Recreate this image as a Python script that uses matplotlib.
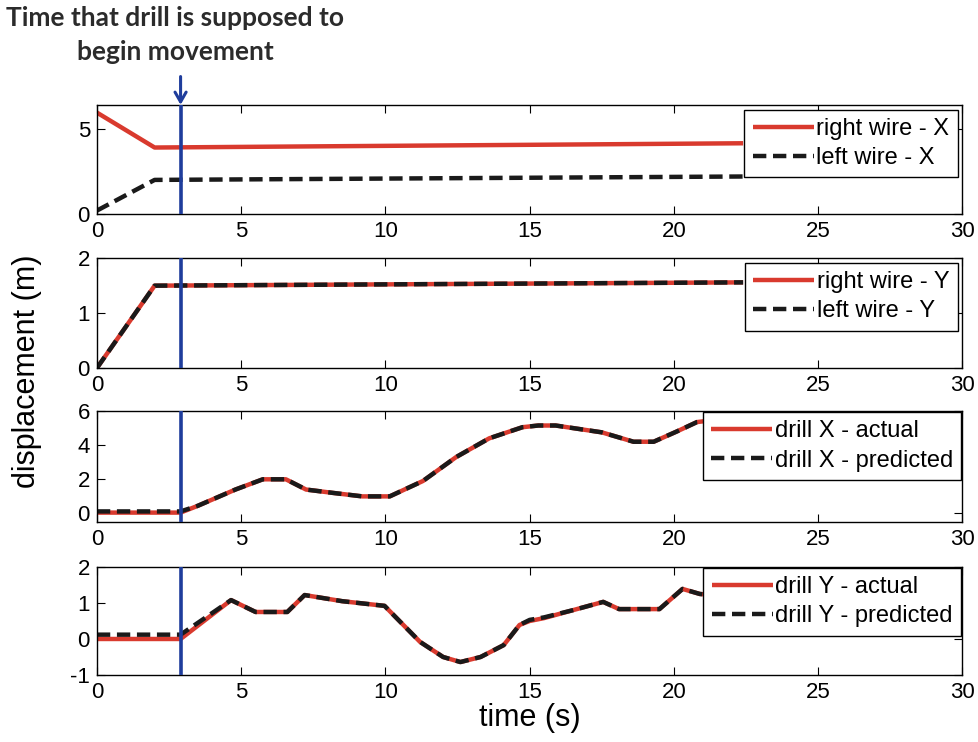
import matplotlib
matplotlib.use("Agg")
import matplotlib.pyplot as plt

# wire positions (s, m)
t_wire = [0, 2, 22.4]
right_x = [5.95, 3.9, 4.15]
left_x = [0.2, 2.0, 2.2]
right_y = [0.0, 1.5, 1.56]
left_y = [0.0, 1.5, 1.56]

# drill X
t_dx = [0, 2.9, 3.5, 4.8, 5.75, 6.55, 7.25, 8.2, 9.2, 10.15, 11.3, 12.45,
        13.6, 14.75, 15.3, 15.9, 17.5, 18.6, 19.3, 20.1, 20.8, 21.5, 22.3]
drill_x_act = [0.05, 0.05, 0.45, 1.4, 2.0, 2.0, 1.4, 1.2, 1.0, 1.0, 1.9, 3.3,
               4.4, 5.05, 5.15, 5.15, 4.75, 4.2, 4.2, 4.8, 5.35, 5.5, 5.55]
drill_x_pred = [0.12, 0.12, 0.45, 1.4, 2.0, 2.0, 1.4, 1.2, 1.0, 1.0, 1.9, 3.3,
                4.4, 5.05, 5.15, 5.15, 4.75, 4.2, 4.2, 4.8, 5.35, 5.5, 5.55]

# drill Y
t_dy = [0, 2.9, 4.65, 5.5, 6.6, 7.2, 8.5, 9.97, 11.2, 12.0, 12.6, 13.3, 14.1,
        14.65, 15.0, 15.5, 16.5, 17.55, 18.1, 19.5, 20.3, 20.9, 21.6, 22.3]
drill_y_act = [0.0, 0.0, 1.08, 0.75, 0.75, 1.22, 1.05, 0.92, -0.08, -0.5, -0.64,
               -0.5, -0.17, 0.39, 0.5, 0.58, 0.8, 1.03, 0.83, 0.83, 1.39, 1.25,
               1.2, 1.2]
drill_y_pred = [0.12, 0.12, 1.08, 0.75, 0.75, 1.22, 1.05, 0.92, -0.08, -0.5, -0.64,
                -0.5, -0.17, 0.39, 0.53, 0.6, 0.8, 1.03, 0.83, 0.83, 1.39, 1.25,
                1.2, 1.2]

t_start = 2.9

red = '#d93a2e'
blue = '#1f3d9c'

plt.rcParams['font.family'] = ['Liberation Sans', 'DejaVu Sans']
plt.rcParams['axes.unicode_minus'] = False
fig = plt.figure(figsize=(9.79, 7.42), dpi=100)

boxes = [(0.099, 0.7116, 0.884, 0.147),
         (0.099, 0.504, 0.884, 0.148),
         (0.099, 0.2965, 0.884, 0.1496),
         (0.099, 0.0903, 0.884, 0.1456)]
axes = [fig.add_axes(b) for b in boxes]

series = [
    (t_wire, right_x, left_x, 'right wire - X', 'left wire - X', (0, 6.4), [0, 5]),
    (t_wire, right_y, left_y, 'right wire - Y', 'left wire - Y', (0, 2), [0, 1, 2]),
    (t_dx, drill_x_act, drill_x_pred, 'drill X - actual', 'drill X - predicted', (-0.5, 6), [0, 2, 4, 6]),
    (t_dy, drill_y_act, drill_y_pred, 'drill Y - actual', 'drill Y - predicted', (-1, 2), [-1, 0, 1, 2]),
]

for i, (ax, (t, a, b, la, lb, ylim, yt)) in enumerate(zip(axes, series)):
    ax.plot(t, a, color=red, lw=3.2, label=la, solid_capstyle='butt')
    ax.plot(t, b, color='#1a1a1a', lw=3.2, ls=(0, (3.0, 1.5)), label=lb)
    ax.axvline(t_start, color=blue, lw=2.6, zorder=5)
    ax.set_xlim(0, 30)
    ax.set_ylim(*ylim)
    ax.set_yticks(yt)
    ax.set_xticks([0, 5, 10, 15, 20, 25, 30])
    ax.tick_params(direction='in', top=True, right=True, length=6,
                   labelsize=16, pad=5)
    for s in ax.spines.values():
        s.set_linewidth(1.0)
    leg = ax.legend(loc='upper right', fontsize=17, frameon=True, fancybox=False,
                    edgecolor='black', framealpha=1, handlelength=2.6,
                    handletextpad=0.1, labelspacing=0.3, borderpad=0.35,
                    borderaxespad=0.2 if i < 2 else 0.05)
    leg.get_frame().set_linewidth(1.0)
    leg.set_zorder(10)

axes[3].set_xlabel('time (s)', fontsize=22, labelpad=0)
fig.text(0.028, 0.5, 'displacement (m)', rotation=90, fontsize=22,
         ha='center', va='center')

axes[0].annotate('', xy=(t_start, 1.0), xytext=(t_start, 1.26),
                 xycoords=('data', 'axes fraction'),
                 textcoords=('data', 'axes fraction'),
                 arrowprops=dict(arrowstyle='->,head_length=0.7,head_width=0.4',
                                 color=blue, lw=2.2, shrinkA=0, shrinkB=0),
                 annotation_clip=False)

fig.text(175 / 979, 1 - 35 / 742, 'Time that drill is supposed to\nbegin movement',
         ha='center', va='center', fontsize=19, fontweight='bold',
         family=['Lato', 'DejaVu Sans'], color='#2b2b2b', linespacing=1.5)

fig.savefig('out.png', dpi=100)
